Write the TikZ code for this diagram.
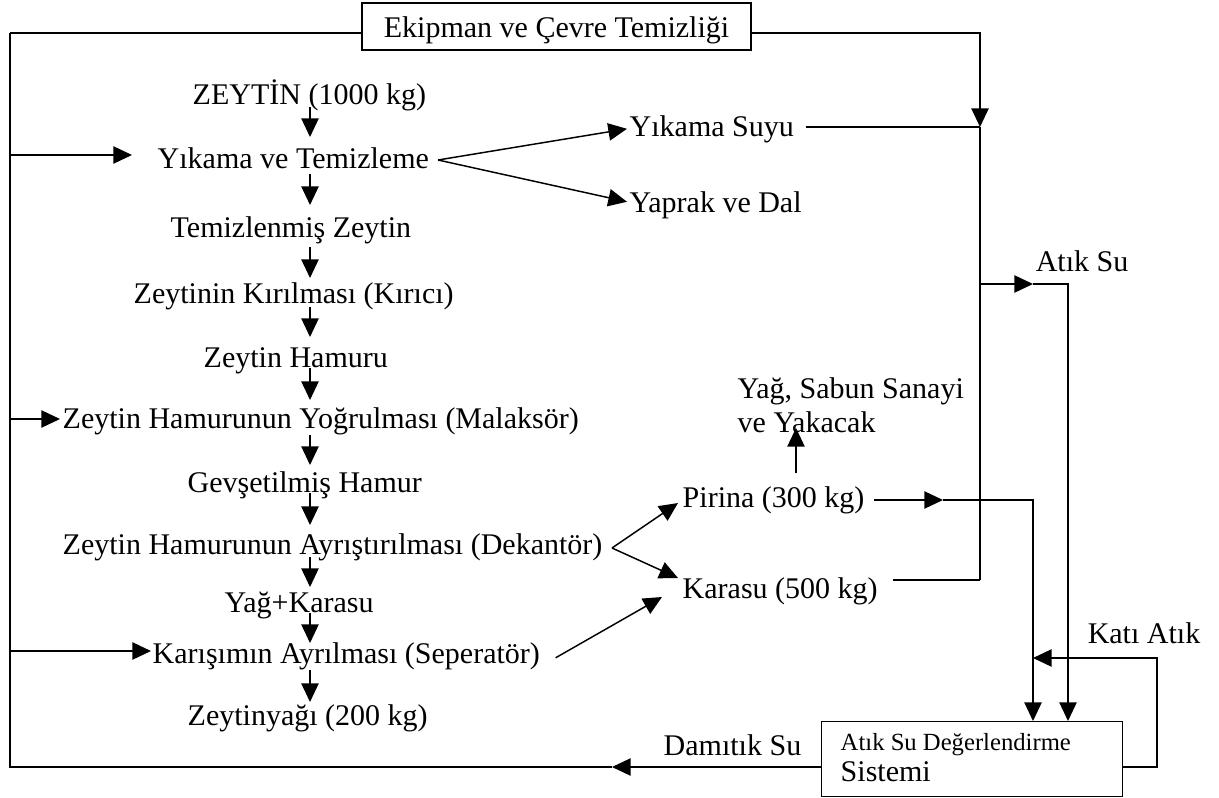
\documentclass[tikz,border=0pt]{standalone}
\usepackage{fontspec}
\setmainfont{Liberation Serif}
\usetikzlibrary{arrows.meta,calc}
\begin{document}
\begin{tikzpicture}[x=0.75pt,y=-0.75pt,line width=1.1pt,
  arr/.style={-{Triangle[length=14pt,width=13pt]}},
  lbl/.style={inner sep=0pt,anchor=base west,font=\fontsize{22.5}{27}\selectfont},
  smalllbl/.style={inner sep=0pt,anchor=base west,font=\fontsize{18.5}{22}\selectfont}]
\useasboundingbox (0,0) rectangle (1219,798);

% main column texts
\node[lbl] (zeytin) at (192,105) {ZEYTİN (1000 kg)};
\node[lbl] (yikama) at (157,169) {Yıkama ve Temizleme};
\node[lbl] (temiz)  at (170,238) {Temizlenmiş Zeytin};
\node[lbl] (kirma)  at (133,303) {Zeytinin Kırılması (Kırıcı)};
\node[lbl] (hamur)  at (203,367) {Zeytin Hamuru};
\node[lbl] (malak)  at (62,428)  {Zeytin Hamurunun Yoğrulması (Malaksör)};
\node[lbl] (gevs)   at (187,492) {Gevşetilmiş Hamur};
\node[lbl] (dekan)  at (62,554)  {Zeytin Hamurunun Ayrıştırılması (Dekantör)};
\node[lbl] (yagk)   at (224,612) {Yağ+Karasu};
\node[lbl] (sep)    at (152,663) {Karışımın Ayrılması (Seperatör)};
\node[lbl] (zyag)   at (187,725) {Zeytinyağı (200 kg)};

% side texts
\node[lbl] (suyu)   at (629,137) {Yıkama Suyu};
\node[lbl] (yaprak) at (629,213) {Yaprak ve Dal};
\node[lbl] (atik)   at (1035,272) {Atık Su};
\node[lbl] (yag1)   at (737,398) {Yağ, Sabun Sanayi};
\node[lbl] (yag2)   at (737,432) {ve Yakacak};
\node[lbl] (pirina) at (682,507) {Pirina (300 kg)};
\node[lbl] (karasu) at (682,598) {Karasu (500 kg)};
\node[lbl] (kati)   at (1087,643) {Katı Atık};
\node[lbl] (damit)  at (663,755) {Damıtık Su};

% boxes
\node[draw,line width=0.9pt,minimum width=291.75pt,minimum height=35.25pt,inner sep=0pt,
  text height=20pt,text depth=2.75pt,font=\fontsize{22.5}{27}\selectfont] (ekip) at (556.5,26.5) {Ekipman ve Çevre Temizliği};
\node[draw,line width=0.9pt,minimum width=225.75pt,minimum height=56.25pt,inner sep=0pt,anchor=north west] (sys) at (821,721) {};
\node[smalllbl] (sys1) at (840,750) {Atık Su Değerlendirme};
\node[lbl] (sys2) at (840,781) {Sistemi};

% column arrows
\coordinate (cx) at (310,0);
\draw[arr] ($(zeytin.base -| cx)+(0,2)$) -- ($(yikama.base -| cx)+(0,-32)$);
\draw[arr] ($(yikama.base -| cx)+(0,5)$) -- ($(temiz.base -| cx)+(0,-33)$);
\draw[arr] ($(temiz.base -| cx)+(0,9)$) -- ($(kirma.base -| cx)+(0,-25)$);
\draw[arr] ($(kirma.base -| cx)+(0,4)$) -- ($(hamur.base -| cx)+(0,-30)$);
\draw[arr] ($(hamur.base -| cx)+(0,1)$) -- ($(malak.base -| cx)+(0,-28)$);
\draw[arr] ($(malak.base -| cx)+(0,7)$) -- ($(gevs.base -| cx)+(0,-27)$);
\draw[arr] ($(gevs.base -| cx)+(0,1)$) -- ($(dekan.base -| cx)+(0,-29)$);
\draw[arr] ($(dekan.base -| cx)+(0,3)$) -- ($(yagk.base -| cx)+(0,-25)$);
\draw[arr] ($(yagk.base -| cx)+(0,1)$) -- ($(sep.base -| cx)+(0,-20)$);
\draw[arr] ($(sep.base -| cx)+(0,7)$) -- ($(zyag.base -| cx)+(0,-23)$);

% outer loop
\coordinate (TL) at (10,33);
\coordinate (BL) at (10,767);
\coordinate (TR) at (980,33);
\coordinate (J1) at (980,127);
\coordinate (J2) at (980,284);
\coordinate (J3) at (980,580);
\coordinate (D0) at (612,767);
\draw (TL) -- (TL -| ekip.west);
\draw[arr] (TR -| ekip.east) -- (TR) -- (J1);
\draw (J1) -- (J3);
\draw[arr] (BL -| sys.west) -- (D0);
\draw (D0) -- (BL) -- (TL);

% feedback arrows
\coordinate (F1) at (10,155);
\coordinate (F2) at (10,419);
\coordinate (F3) at (10,651);
\draw[arr,shorten >=18.75pt] (F1) -- (F1 -| yikama.west);
\draw[arr,shorten >=1.5pt] (F2) -- (F2 -| malak.west);
\draw[arr,shorten >=0.75pt] (F3) -- (F3 -| sep.west);

% washing branch
\coordinate (Y0) at (438,160);
\draw[arr] (Y0) -- ($(suyu.west)+(-2,-1)$);
\draw[arr] (Y0) -- ($(yaprak.west)+(-2,-4)$);
\draw ($(suyu.east |- J1)+(11,0)$) -- (J1);

% waste water branch
\coordinate (A0) at (1033,284);
\coordinate (A1) at (1068,284);
\draw[arr] (J2) -- (A0);
\draw[arr] (A0) -- (A1) -- (A1 |- sys.north);

% decanter branch
\coordinate (D1) at (612,548);
\coordinate (PT) at (678,503);
\coordinate (KT) at (678,578);
\coordinate (ST) at (662,597);
\draw[arr] (D1) -- (PT);
\draw[arr] (D1) -- (KT);
\draw[arr] ($(sep.east)+(15,2)$) -- (ST);

% pirina
\coordinate (P0) at (943,500);
\coordinate (P1) at (1033,500);
\coordinate (PU) at (796,0);
\draw[arr] ($(pirina.east |- P0)+(9,0)$) -- (P0);
\draw[arr] (P0) -- (P1) -- (P1 |- sys.north);
\draw[arr] ($(pirina.north -| PU)+(0,-12)$) -- ($(yag2.base -| PU)+(0,-4)$);

% karasu
\draw ($(karasu.east |- J3)+(15,0)$) -- (J3);

% solid waste loop
\coordinate (K1) at (1157,767);
\coordinate (K2) at (1157,658);
\coordinate (K3) at (1033,658);
\draw[arr] (sys.east |- K1) -- (K1) -- (K2) -- (K3);
\end{tikzpicture}
\end{document}
